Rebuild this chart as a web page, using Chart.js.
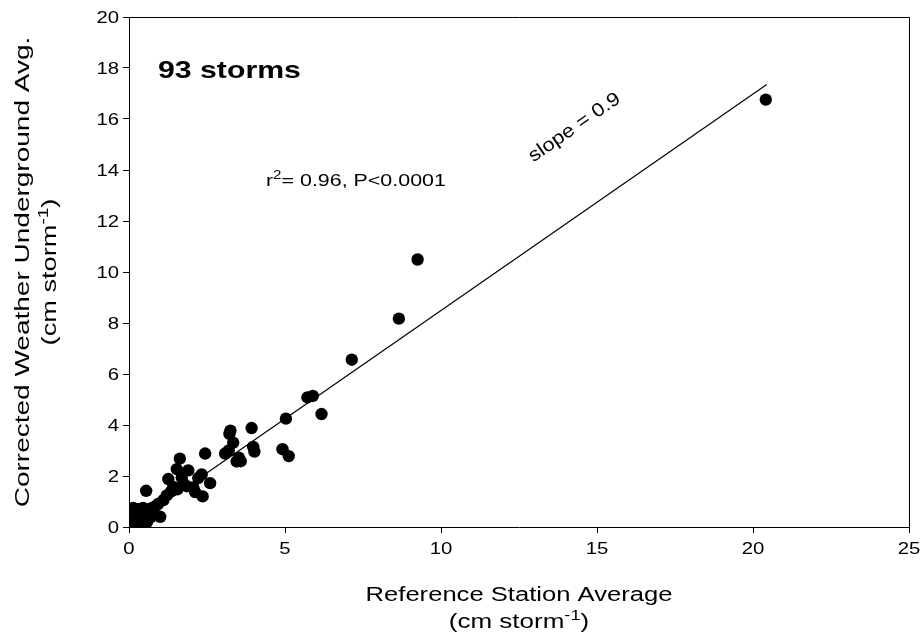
<!DOCTYPE html>
<html>
<head>
<meta charset="utf-8">
<script src="https://cdn.jsdelivr.net/npm/chart.js@4/dist/chart.umd.min.js"></script>
<style>
  html, body { margin: 0; padding: 0; background: #fff; }
  #wrap { width: 921px; height: 642px; }
</style>
</head>
<body>
<div id="wrap"><canvas id="storms" width="921" height="642"></canvas></div>
<script>
// reference station average (cm storm-1)
const refAvg = [
  20.41, 9.25, 8.65, 7.14, 5.72, 5.89, 6.17, 5.03, 4.92, 5.12,
  3.93, 3.98, 4.02, 3.25, 3.22, 3.34, 3.08, 3.2, 3.45, 3.52,
  3.58, 2.44, 1.63, 1.53, 1.90, 2.33, 2.22, 1.26, 1.69, 2.60,
  1.42, 1.74, 2.06, 2.12, 2.36, 1.21, 1.10, 0.55, 1.55, 1.85,
  1.35, 0.83, 0.78, 1.00, 0.93, 0.71, 0.13,
  0.00, 0.02, 0.05, 0.08, 0.10, 0.12, 0.15, 0.18, 0.20, 0.22,
  0.25, 0.28, 0.30, 0.32, 0.35, 0.38, 0.40, 0.42, 0.45, 0.48,
  0.50, 0.52, 0.55, 0.60, 0.62, 0.65, 0.70, 0.05, 0.00, 0.03,
  0.10, 0.15, 0.25, 0.35, 0.28, 0.45, 0.60, 0.75, 0.02, 0.06,
  0.33, 0.18, 0.40, 0.58, 0.68, 0.12
];
// corrected weather underground average (cm storm-1)
const wuAvg = [
  16.76, 10.49, 8.17, 6.56, 5.08, 5.14, 4.43, 4.25, 3.05, 2.78,
  3.88, 3.14, 2.96, 3.78, 3.65, 3.31, 2.88, 3.0, 2.57, 2.72,
  2.58, 2.88, 2.68, 2.27, 2.22, 2.06, 1.92, 1.88, 1.94, 1.72,
  1.57, 1.70, 1.55, 1.37, 1.20, 1.24, 1.05, 1.42, 1.48, 1.60,
  1.40, 0.80, 0.52, 0.40, 0.90, 0.60, 0.75,
  0.05, 0.10, 0.20, 0.02, 0.35, 0.15, 0.45, 0.25, 0.05, 0.60,
  0.30, 0.15, 0.50, 0.40, 0.20, 0.55, 0.10, 0.35, 0.60, 0.25,
  0.45, 0.15, 0.50, 0.30, 0.55, 0.70, 0.40, 0.40, 0.30, 0.55,
  0.00, 0.10, 0.05, 0.40, 0.70, 0.75, 0.60, 0.75, 0.00, 0.08,
  0.30, 0.50, 0.65, 0.20, 0.55, 0.62
];

const xTicks = [0, 5, 10, 15, 20, 25];
const yTicks = [0, 2, 4, 6, 8, 10, 12, 14, 16, 18, 20];

// regression line drawn over the data range
const fitSlope = 0.849;
const fitIntercept = 0;
const fitRange = [0, 20.44];

const FONT = '"Liberation Sans", Arial, sans-serif';
const STRETCH = 1.27; // the source figure is wider than plain Arial

const points = refAvg.map((x, i) => ({ x: x, y: wuAvg[i] }));
const fitLine = fitRange.map(x => ({ x: x, y: fitIntercept + fitSlope * x }));

// text with optional raised superscript, stretched sideways by sx
function drawText(ctx, parts, x, y, size, align, sx, weight) {
  const w = weight ? weight + ' ' : '';
  const supSize = Math.round(size * 0.68);
  let total = 0;
  parts.forEach(p => {
    ctx.font = w + (p.sup ? supSize : size) + 'px ' + FONT;
    total += ctx.measureText(p.t).width;
  });
  ctx.save();
  ctx.translate(x, y);
  ctx.scale(sx, 1);
  let cx = align === 'center' ? -total / 2 : align === 'right' ? -total : 0;
  ctx.textAlign = 'left';
  ctx.textBaseline = 'alphabetic';
  parts.forEach(p => {
    ctx.font = w + (p.sup ? supSize : size) + 'px ' + FONT;
    ctx.fillText(p.t, cx, p.sup ? -size * 0.42 : 0);
    cx += ctx.measureText(p.t).width;
  });
  ctx.restore();
}

const decor = {
  id: 'decor',
  afterDraw(chart) {
    const ctx = chart.ctx;
    const a = chart.chartArea;
    const xs = chart.scales.x, ys = chart.scales.y;
    ctx.save();
    ctx.strokeStyle = '#000';
    ctx.lineWidth = 1;
    ctx.beginPath();
    ctx.moveTo(a.left, a.top + 0.5);
    ctx.lineTo(a.right + 0.5, a.top + 0.5);
    ctx.lineTo(a.right + 0.5, a.bottom);
    ctx.stroke();

    ctx.fillStyle = '#000';
    // tick labels, placed by the scales
    xs.ticks.forEach(t => {
      drawText(ctx, [{ t: String(t.value) }], xs.getPixelForValue(t.value), a.bottom + 27, 16, 'center', STRETCH);
    });
    ys.ticks.forEach(t => {
      drawText(ctx, [{ t: String(t.value) }], a.left - 10, ys.getPixelForValue(t.value) + 6, 16, 'right', STRETCH);
    });

    const unit = [{ t: '(cm storm' }, { t: '-1', sup: true }, { t: ')' }];
    // x axis title
    const midX = (a.left + a.right) / 2;
    drawText(ctx, [{ t: 'Reference Station Average' }], midX, 601, 20, 'center', 1.28);
    drawText(ctx, unit, midX, 628, 20, 'center', 1.3);

    // y axis title
    const midY = (a.top + a.bottom) / 2;
    ctx.save();
    ctx.translate(0, midY);
    ctx.rotate(-Math.PI / 2);
    drawText(ctx, [{ t: 'Corrected Weather Underground Avg.' }], 0, 29, 20, 'center', 1.4);
    drawText(ctx, unit, 0, 56, 20, 'center', 1.36);
    ctx.restore();

    // annotations
    drawText(ctx, [{ t: '93 storms' }], xs.getPixelForValue(0.93), ys.getPixelForValue(17.6), 24, 'left', 1.26, 'bold');

    drawText(ctx, [{ t: 'r' }, { t: '2', sup: true }, { t: '= 0.96, P<0.0001' }],
      xs.getPixelForValue(4.39), ys.getPixelForValue(13.36), 17, 'left', 1.26);

    const ang = Math.atan2(
      ys.getPixelForValue(fitLine[1].y) - ys.getPixelForValue(fitLine[0].y),
      xs.getPixelForValue(fitLine[1].x) - xs.getPixelForValue(fitLine[0].x));
    ctx.save();
    ctx.translate(xs.getPixelForValue(14.25), ys.getPixelForValue(15.72));
    ctx.rotate(ang);
    drawText(ctx, [{ t: 'slope = 0.9' }], 0, 7, 19, 'center', 1.15);
    ctx.restore();
    ctx.restore();
  }
};

new Chart(document.getElementById('storms'), {
  data: {
    datasets: [
      {
        type: 'scatter',
        data: points,
        backgroundColor: '#000',
        borderColor: '#000',
        borderWidth: 0,
        pointRadius: 6.2,
        pointHoverRadius: 6.2,
        order: 1
      },
      {
        type: 'line',
        data: fitLine,
        borderColor: '#000',
        borderWidth: 1.2,
        pointRadius: 0,
        fill: false,
        order: 2
      }
    ]
  },
  options: {
    responsive: false,
    animation: false,
    events: [],
    layout: { padding: { left: 0, top: 17, right: 12, bottom: 0 } },
    plugins: { legend: { display: false }, tooltip: { enabled: false } },
    scales: {
      x: {
        type: 'linear',
        min: 0, max: 25,
        afterBuildTicks: s => { s.ticks = xTicks.map(v => ({ value: v })); },
        afterFit: s => { s.height = 115; s.paddingLeft = 0; s.paddingRight = 0; },
        border: { display: true, color: '#000', width: 1 },
        grid: { drawOnChartArea: false, drawTicks: true, tickLength: 6, color: '#000' },
        ticks: { display: false }
      },
      y: {
        type: 'linear',
        min: 0, max: 20,
        afterBuildTicks: s => { s.ticks = yTicks.map(v => ({ value: v })); },
        afterFit: s => { s.width = 129; s.paddingTop = 0; s.paddingBottom = 0; },
        border: { display: true, color: '#000', width: 1 },
        grid: { drawOnChartArea: false, drawTicks: true, tickLength: 6, color: '#000' },
        ticks: { display: false }
      }
    }
  },
  plugins: [decor]
});
</script>
</body>
</html>
